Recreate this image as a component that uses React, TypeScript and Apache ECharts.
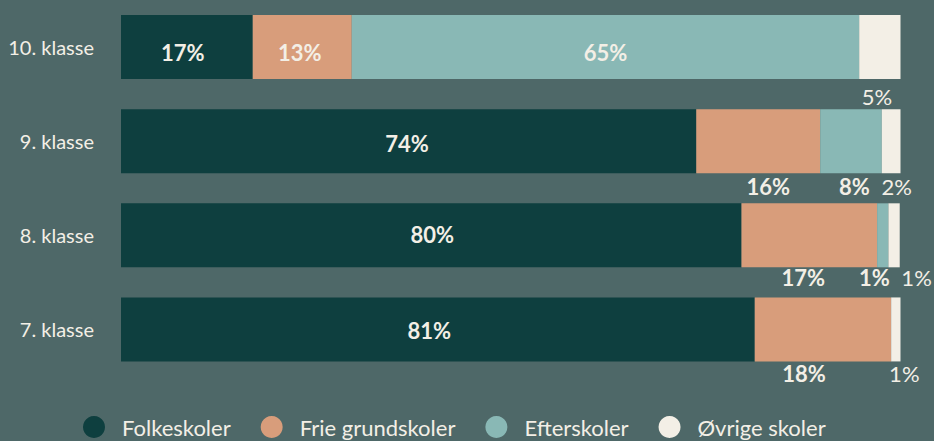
import React, { useEffect, useRef } from "react";
import * as echarts from "echarts";

const categories = ["10. klasse", "9. klasse", "8. klasse", "7. klasse"];
const seriesNames = ["Folkeskoler", "Frie grundskoler", "Efterskoler", "Øvrige skoler"];
const folkeskoler = [16.9, 73.8, 79.6, 81.3];
const frieGrundskoler = [12.7, 15.9, 17.4, 17.5];
const efterskoler = [65.1, 7.9, 1.45, 0];
const ovrigeSkoler = [5.3, 2.4, 1.45, 1.2];

const seriesValues = [folkeskoler, frieGrundskoler, efterskoler, ovrigeSkoler];

const COLORS = ["#0e3f3f", "#d89d7b", "#89b8b5", "#f3efe6"];
const BG = "#4e6868";
const TEXT = "#f3efe6";
const FONT = "Lato, 'Open Sans', sans-serif";

// label offsets relative to segment centre (styling only)
const labelOffsets: (number[] | null)[][] = [
  [[-4, 5], [-1.5, 2.7], [1, -1.3], [-8.5, 1.5]],
  [[-2.5, 5], [10, 45.2], [-6, 42.2], [-19, 44]],
  [[0, 5], [3.5, 45.2], [-8.5, 42.2], null],
  [[-3, 49.2], [5.5, 45.2], [22.5, 42.2], [8.5, 44]],
];

export default function App() {
  const ref = useRef<HTMLDivElement>(null);
  useEffect(() => {
    document.body.style.margin = "0";
    document.body.style.background = BG;
    if (!ref.current) return;
    const chart = echarts.init(ref.current, undefined, { renderer: "svg" });
    const series = seriesNames.map((name, si) => ({
      name,
      type: "bar",
      stack: "total",
      barWidth: 64,
      itemStyle: { color: COLORS[si] },
      data: seriesValues[si].map((v, ci) => {
        const off = labelOffsets[si][ci];
        return {
          value: v,
          label: {
            show: v > 0 && off !== null,
            position: "inside",
            offset: off || [0, 0],
          },
        };
      }),
      label: {
        show: true,
        position: "inside",
        color: TEXT,
        fontFamily: FONT,
        fontSize: 22,
        fontWeight: si === 3 ? "normal" : "bold",
        formatter: (p: any) => Math.round(p.value) + "%",
      },
      emphasis: { disabled: true },
    }));
    chart.setOption({
      animation: false,
      backgroundColor: BG,
      textStyle: { fontFamily: FONT },
      grid: { left: 121, right: 33.5, top: -2.5, height: 379, containLabel: false },
      xAxis: { type: "value", min: 0, max: 100, show: false },
      yAxis: {
        type: "category",
        data: categories,
        inverse: true,
        axisLine: { show: false },
        axisTick: { show: false },
        splitLine: { show: false },
        axisLabel: { color: TEXT, fontSize: 20, fontFamily: FONT, margin: 27 },
      },
      legend: {
        data: seriesNames,
        left: 78,
        top: 410,
        icon: "circle",
        itemWidth: 22,
        itemHeight: 22,
        itemGap: 30,
        selectedMode: false,
        textStyle: { color: TEXT, fontSize: 22, lineHeight: 24, fontFamily: FONT, padding: [0, 0, 0, 12] },
      },
      series,
    });
    return () => chart.dispose();
  }, []);
  return <div ref={ref} style={{ width: 934, height: 441 }} />;
}
